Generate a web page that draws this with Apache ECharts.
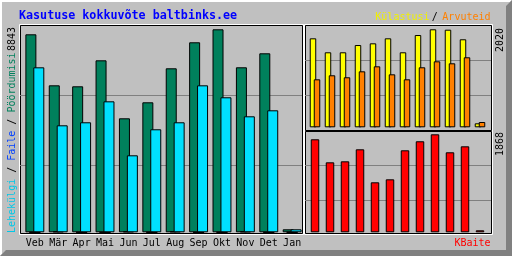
<!DOCTYPE html>
<html>
<head>
<meta charset="utf-8">
<script src="https://cdn.jsdelivr.net/npm/echarts@6/dist/echarts.min.js"></script>
<style>
html,body{margin:0;padding:0;background:#c0c0c0;}
#c{width:512px;height:256px;}
</style>
</head>
<body>
<div id="c"></div>
<script>
const months = ['Veb','Mär','Apr','Mai','Jun','Jul','Aug','Sep','Okt','Nov','Det','Jan'];
const hits   = [8625,6403,6360,7492,4966,5663,7144,8277,8843,7188,7797,131];
const files  = [0,40,0,0,40,0,40,0,0,40,0,0];
const pages  = [7187,4661,4792,5706,3354,4487,4792,6403,5881,5053,5314,131];
const visits = [1834,1546,1546,1696,1731,1834,1546,1902,2020,2012,1814,82];
const sites  = [989,1072,1031,1154,1257,1092,989,1237,1360,1319,1443,109];
const kbytes = [1773,1334,1353,1582,953,1010,1563,1735,1868,1525,1639,38];
const maxLabels = ['8843','2020','1868'];
const title = 'Kasutuse kokkuvõte baltbinks.ee';
const leftLegend = ['Lehekülgi','Faile','Pöördumisi'];
const topLegend = ['Külastusi','Arvuteid'];
const bottomLegend = 'KBaite';

const C = {hits:'#00805C', files:'#0040FF', pages:'#00E0FF', visits:'#FFFF00', sites:'#FF8000', kbytes:'#FF0000'};
const MONO = '"DejaVu Sans Mono", "Liberation Mono", monospace';

const chart = echarts.init(document.getElementById('c'), null, {renderer:'canvas'});

function gridLineAxes(gi){
  return {
    x:{type:'value', gridIndex:gi, show:false, min:0, max:1},
    y:{type:'value', gridIndex:gi, min:0, max:3, interval:1,
       axisLine:{show:false}, axisTick:{show:false}, axisLabel:{show:false},
       splitLine:{show:true, showMinLine:false, showMaxLine:false, lineStyle:{color:'#808080', width:1}}}
  };
}
const g0 = gridLineAxes(0), g1 = gridLineAxes(1), g2 = gridLineAxes(2);

const maxVals = [Math.max(...hits), Math.max(...visits), Math.max(...kbytes)];

const barBorder = {borderColor:'#000', borderWidth:1};
const txt = (extra) => Object.assign({fontFamily:MONO, fontSize:10, fontWeight:'normal'}, extra);

// vertical legend pieces (bottom to top)
const CW = 6.02;
const legendPieces = [
  {t:leftLegend[0], c:'#00C8E8'}, {t:' / ', c:'#000'},
  {t:leftLegend[1], c:C.files}, {t:' / ', c:'#000'},
  {t:leftLegend[2], c:C.hits}
];
const legendGraphics = [];
let ly = 233;
legendPieces.forEach(p => {
  legendGraphics.push({type:'text', x:12, y:ly, rotation:Math.PI/2,
    style:txt({text:p.t, fill:p.c, textAlign:'left', textVerticalAlign:'middle'})});
  ly -= p.t.length * CW;
});

const option = {
  backgroundColor:'#c0c0c0',
  animation:false,
  grid:[
    {left:20, top:25.3, width:282, height:210},
    {left:305, top:25.3, width:186, height:105},
    {left:305, top:130.3, width:186, height:105},
    {left:23.15, top:29.3, width:280.7, height:203},
    {left:307.5, top:29.3, width:180, height:98},
    {left:307.5, top:134.3, width:180, height:98}
  ],
  xAxis:[
    g0.x, g1.x, g2.x,
    {type:'category', gridIndex:3, data:months, boundaryGap:true,
     axisLine:{show:false}, axisTick:{show:false},
     axisLabel:{show:true, color:'#000', fontFamily:MONO, fontSize:10, margin:6, interval:0}},
    {type:'category', gridIndex:4, data:months, show:false},
    {type:'category', gridIndex:5, data:months, show:false}
  ],
  yAxis:[
    g0.y, g1.y, g2.y,
    {type:'value', gridIndex:3, min:0, max:maxVals[0], show:false, splitLine:{show:false}},
    {type:'value', gridIndex:4, min:0, max:maxVals[1], show:false, splitLine:{show:false}},
    {type:'value', gridIndex:5, min:0, max:maxVals[2], show:false, splitLine:{show:false}}
  ],
  series:[
    {type:'bar', name:leftLegend[2], xAxisIndex:3, yAxisIndex:3, data:hits, barWidth:11, barGap:'-64%',
     itemStyle:Object.assign({color:C.hits}, barBorder)},
    {type:'bar', name:leftLegend[1], xAxisIndex:3, yAxisIndex:3, data:files, barWidth:11, barGap:'-64%',
     itemStyle:Object.assign({color:C.files}, barBorder)},
    {type:'bar', name:leftLegend[0], xAxisIndex:3, yAxisIndex:3, data:pages, barWidth:11, barGap:'-64%',
     itemStyle:Object.assign({color:C.pages}, barBorder)},
    {type:'bar', name:topLegend[0], xAxisIndex:4, yAxisIndex:4, data:visits, barWidth:6.5, barGap:'-38%',
     itemStyle:Object.assign({color:C.visits}, barBorder)},
    {type:'bar', name:topLegend[1], xAxisIndex:4, yAxisIndex:4, data:sites, barWidth:6.5, barGap:'-38%',
     itemStyle:Object.assign({color:C.sites}, barBorder)},
    {type:'bar', name:bottomLegend, xAxisIndex:5, yAxisIndex:5, data:kbytes, barWidth:8.5,
     itemStyle:Object.assign({color:C.kbytes}, barBorder)}
  ],
  graphic:[
    {type:'polygon', shape:{points:[[0,0],[512,0],[510,2],[2,2],[2,254],[0,256]]}, style:{fill:'#ffffff'}},
    {type:'polygon', shape:{points:[[512,0],[512,256],[0,256],[6,250],[506,250],[506,6]]}, style:{fill:'#808080'}},
    {type:'rect', shape:{x:19.5, y:24.5, width:284, height:210}, style:{fill:null, stroke:'#ffffff', lineWidth:1}},
    {type:'rect', shape:{x:20.5, y:25.5, width:282, height:208}, style:{fill:null, stroke:'#000000', lineWidth:1}},
    {type:'rect', shape:{x:304.5, y:24.5, width:188, height:210}, style:{fill:null, stroke:'#ffffff', lineWidth:1}},
    {type:'rect', shape:{x:305.5, y:25.5, width:186, height:105}, style:{fill:null, stroke:'#000000', lineWidth:1}},
    {type:'rect', shape:{x:305.5, y:131.5, width:186, height:102}, style:{fill:null, stroke:'#000000', lineWidth:1}},
    {type:'text', x:19, y:15.5, style:txt({text:title, fill:'#0000FF', fontSize:11.7, fontWeight:'bold', textAlign:'left', textVerticalAlign:'middle'})},
    {type:'text', x:490.5, y:17.5, style:txt({text:topLegend[1], fill:C.sites, textAlign:'right', textVerticalAlign:'middle'})},
    {type:'text', x:434.7, y:17.5, style:txt({text:'/', fill:'#000', textAlign:'center', textVerticalAlign:'middle'})},
    {type:'text', x:429.5, y:17.5, style:txt({text:topLegend[0], fill:'#F0F000', textAlign:'right', textVerticalAlign:'middle'})},
    {type:'text', x:490.5, y:243, style:txt({text:bottomLegend, fill:C.kbytes, textAlign:'right', textVerticalAlign:'middle'})},
    ...legendGraphics,
    {type:'text', x:12.5, y:27, rotation:Math.PI/2, style:txt({text:maxLabels[0], fill:'#000', textAlign:'right', textVerticalAlign:'middle'})},
    {type:'text', x:500, y:28, rotation:Math.PI/2, style:txt({text:maxLabels[1], fill:'#000', textAlign:'right', textVerticalAlign:'middle'})},
    {type:'text', x:500, y:132, rotation:Math.PI/2, style:txt({text:maxLabels[2], fill:'#000', textAlign:'right', textVerticalAlign:'middle'})}
  ]
};
chart.setOption(option);
</script>
</body>
</html>
